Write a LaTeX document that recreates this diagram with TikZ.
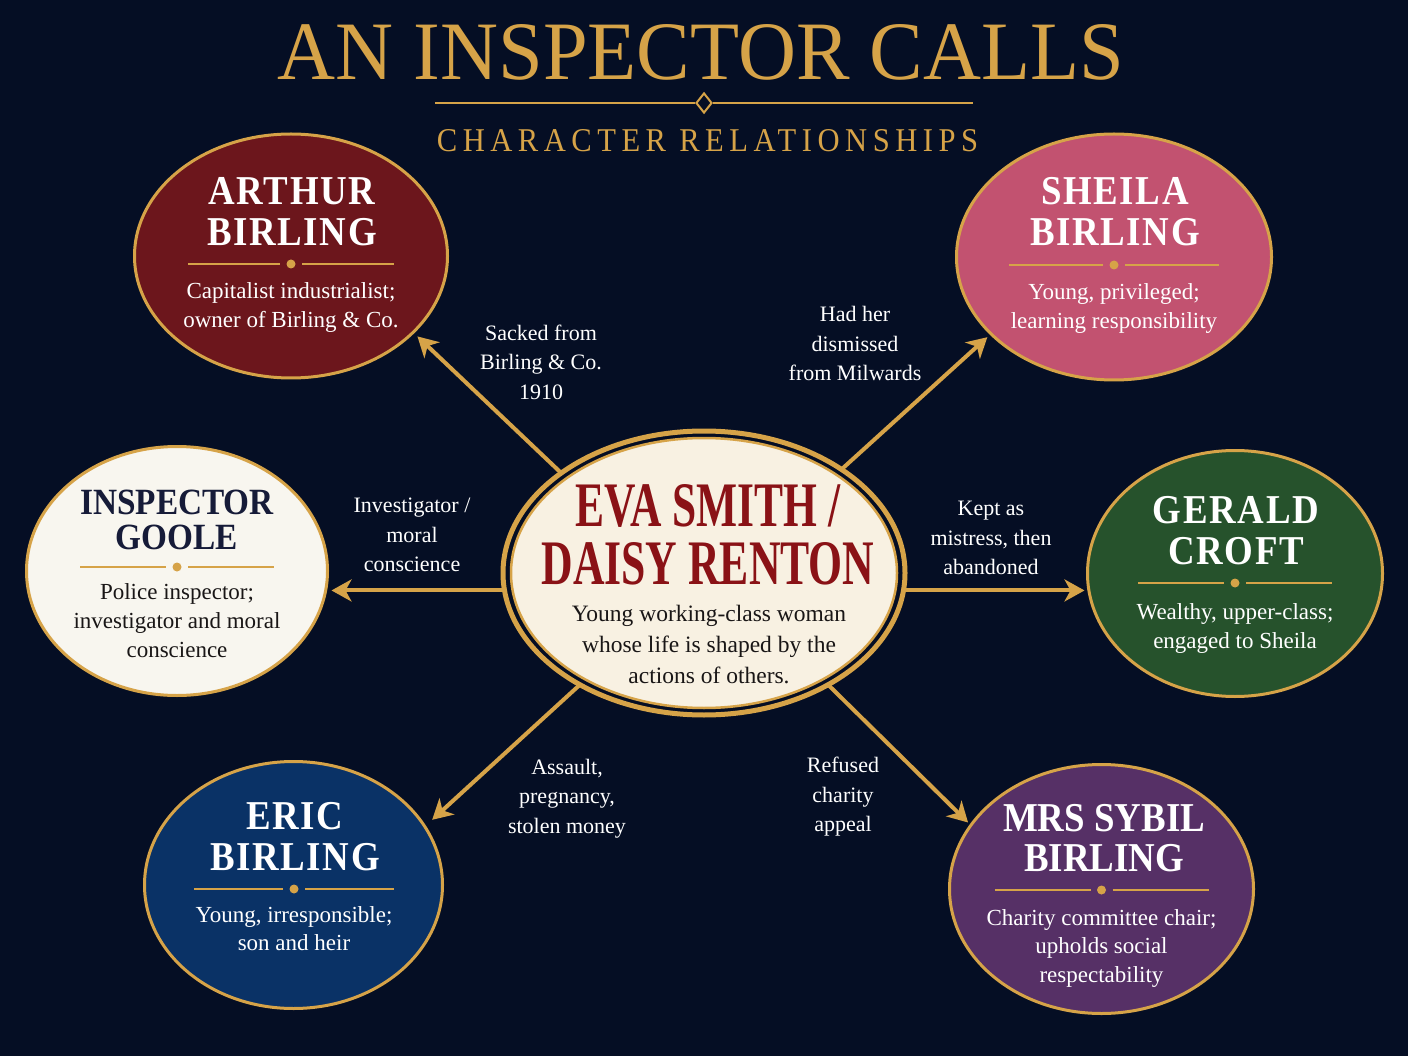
\documentclass[tikz,border=0pt]{standalone}
\usepackage{fontspec}
\usepackage{graphicx}
\setmainfont{Liberation Serif}
\newfontfamily\namefont{Liberation Serif}[FakeStretch=0.9,LetterSpace=4]
\newfontfamily\goolefont{Liberation Serif}[FakeStretch=0.9]
\newfontfamily\spacedfont{Liberation Serif}[LetterSpace=18]
\usetikzlibrary{arrows.meta,shapes.geometric}
\definecolor{bgc}{RGB}{5,14,36}
\definecolor{gold}{RGB}{214,163,72}
\definecolor{arthurc}{RGB}{108,22,28}
\definecolor{sheilac}{RGB}{194,82,112}
\definecolor{goolec}{RGB}{248,246,239}
\definecolor{geraldc}{RGB}{38,82,44}
\definecolor{ericc}{RGB}{10,50,102}
\definecolor{sybilc}{RGB}{86,48,102}
\definecolor{cream}{RGB}{248,241,226}
\definecolor{evared}{RGB}{138,18,22}
\definecolor{goolename}{RGB}{22,27,56}
\definecolor{darktext}{RGB}{25,22,22}
\newcommand{\divline}[3]{%
  \draw[gold, line width=2pt] (#1-#3,#2) -- (#1-11,#2);
  \draw[gold, line width=2pt] (#1+11,#2) -- (#1+#3,#2);
  \fill[gold] (#1,#2) circle (4.5pt);}
\begin{document}
\begin{tikzpicture}[x=1pt,y=-1pt,
  charell/.style={ellipse, draw=gold, line width=3pt, inner sep=0pt, outer sep=0pt},
  nametxt/.style={align=center, text=white, inner sep=0pt, font=\namefont\bfseries\fontsize{41}{41}\selectfont},
  desctxt/.style={align=center, text=white, inner sep=0pt, font=\fontsize{23}{28.5}\selectfont},
  lbl/.style={align=center, text=white, inner sep=0pt, font=\fontsize{22}{29.5}\selectfont},
  arr/.style={draw=gold, line width=4pt, -{Stealth[length=20pt,width=22pt,inset=6pt]}}]
\fill[bgc] (0,0) rectangle (1408,1056);
\useasboundingbox (0,0) rectangle (1408,1056);

% title
\node[inner sep=0pt, text=gold] (title) at (701,52.5) {\resizebox{846pt}{55pt}{AN INSPECTOR CALLS}};
\coordinate (ornL) at (435,103);
\coordinate (ornR) at (973,103);
\node[diamond, draw=gold, fill=bgc, line width=2pt, minimum width=16pt, minimum height=20pt, inner sep=0pt] (orn) at (704,103) {};
\draw[gold, line width=2.5pt] (ornL) -- (orn.west);
\draw[gold, line width=2.5pt] (orn.east) -- (ornR);
\node[inner sep=0pt, text=gold] (subtitle) at (707.5,141) {\resizebox{541pt}{22pt}{\spacedfont CHARACTER RELATIONSHIPS}};

% character ellipses
\node[charell, fill=arthurc, minimum width=313pt, minimum height=244pt] (arthur) at (291,256) {};
\node[nametxt] (arthur-n) at (292,212) {ARTHUR\\BIRLING};
\divline{291}{264}{103}
\node[desctxt] (arthur-d) at (291,307.7) {Capitalist industrialist;\\owner of Birling \& Co.};

\node[charell, fill=sheilac, minimum width=315pt, minimum height=246pt] (sheila) at (1114,257) {};
\node[nametxt] (sheila-n) at (1115,211.5) {SHEILA\\BIRLING};
\divline{1114}{265}{105}
\node[desctxt] (sheila-d) at (1114,308.7) {Young, privileged;\\learning responsibility};

\node[charell, fill=goolec, minimum width=301pt, minimum height=249pt] (goole) at (177,571) {};
\node[nametxt, text=goolename, font=\goolefont\bfseries\fontsize{37}{35}\selectfont] (goole-n) at (177,520) {INSPECTOR\\GOOLE};
\divline{177}{567}{97}
\node[desctxt, text=darktext, font=\fontsize{23}{29}\selectfont] (goole-d) at (177,620.2) {Police inspector;\\investigator and moral\\conscience};

\node[charell, fill=geraldc, minimum width=295pt, minimum height=246pt] (gerald) at (1235,573.5) {};
\node[nametxt] (gerald-n) at (1236,530.5) {GERALD\\CROFT};
\divline{1235}{583}{97}
\node[desctxt] (gerald-d) at (1235,628.7) {Wealthy, upper-class;\\engaged to Sheila};

\node[charell, fill=ericc, minimum width=298pt, minimum height=247pt] (eric) at (293.5,885) {};
\node[nametxt] (eric-n) at (295,837) {ERIC\\BIRLING};
\divline{294}{889}{100}
\node[desctxt] (eric-d) at (294,928.4) {Young, irresponsible;\\son and heir};

\node[charell, fill=sybilc, minimum width=304pt, minimum height=249pt] (sybil) at (1101.5,889) {};
\node[nametxt, font=\goolefont\bfseries\fontsize{41}{40}\selectfont] (sybil-n) at (1104,838) {MRS SYBIL\\BIRLING};
\divline{1101.5}{890}{107}
\node[desctxt] (sybil-d) at (1101.5,948) {Charity committee chair;\\upholds social\\respectability};

% central node
\node[ellipse, draw=gold, line width=5pt, fill=bgc, minimum width=402pt, minimum height=284pt, inner sep=0pt, outer sep=0pt] (eva) at (704,573) {};
\node[ellipse, draw=gold, line width=2.5pt, fill=cream, minimum width=386pt, minimum height=270pt, inner sep=0pt, outer sep=0pt] (evain) at (704,573) {};
\node[align=center, inner sep=0pt, text=evared, font=\bfseries\fontsize{60}{58}\selectfont] (eva-n) at (708,535) {\resizebox{265pt}{42pt}{EVA SMITH /}\\\resizebox{333pt}{42pt}{DAISY RENTON}};
\node[desctxt, text=darktext, font=\fontsize{23.5}{30.7}\selectfont] (eva-d) at (709,644.5) {Young working-class woman\\whose life is shaped by the\\actions of others.};

% arrows
\draw[arr, shorten >=6pt] (eva.145) -- (arthur.328);
\draw[arr, shorten >=5pt] (eva.37) -- (sheila.212);
\draw[arr, shorten >=4pt] (eva.185) -- (eva.185 -| goole.east);
\draw[arr, shorten >=3pt] (eva.355) -- (eva.355 -| gerald.west);
\draw[arr, shorten >=10pt] (eva.222) -- (eric.24);
\draw[arr, shorten >=4pt] (eva.318) -- (sybil.154);

% arrow labels
\node[lbl] (lab-arthur) at (541,362) {Sacked from\\Birling \& Co.\\1910};
\node[lbl] (lab-sheila) at (855,343.5) {Had her\\dismissed\\from Milwards};
\node[lbl] (lab-goole) at (412,535) {Investigator /\\moral\\conscience};
\node[lbl] (lab-gerald) at (991,538) {Kept as\\mistress, then\\abandoned};
\node[lbl] (lab-eric) at (567,798.5) {Assault,\\pregnancy,\\stolen money};
\node[lbl] (lab-sybil) at (843,797) {Refused\\charity\\appeal};
\end{tikzpicture}
\end{document}
